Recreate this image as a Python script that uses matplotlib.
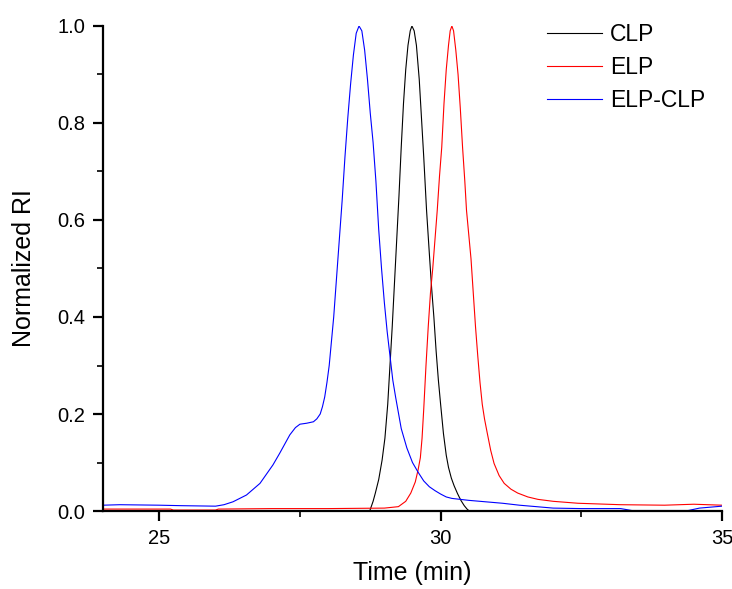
import matplotlib
matplotlib.use('Agg')
import matplotlib.pyplot as plt
from matplotlib.ticker import MultipleLocator

# CLP (black)
clp_t = [24.0, 28.74, 28.80, 28.84, 28.90, 28.96, 29.01, 29.06, 29.10, 29.14, 29.18,
         29.22, 29.26, 29.30, 29.34, 29.38, 29.42, 29.46, 29.49, 29.53, 29.57, 29.62,
         29.66, 29.70, 29.75, 29.80, 29.84, 29.88, 29.92, 29.96, 30.00, 30.05, 30.10,
         30.14, 30.19, 30.24, 30.30, 30.36, 30.42, 30.47, 30.51, 35.0]
clp_y = [0.0, 0.0, 0.02, 0.037, 0.065, 0.105, 0.15, 0.22, 0.30, 0.38, 0.47,
         0.56, 0.65, 0.75, 0.84, 0.91, 0.96, 0.99, 1.0, 0.99, 0.96, 0.89,
         0.81, 0.73, 0.62, 0.53, 0.46, 0.40, 0.33, 0.27, 0.22, 0.16, 0.115,
         0.09, 0.068, 0.052, 0.036, 0.022, 0.011, 0.004, 0.0, 0.0]

# ELP (red)
elp_t = [24.0, 25.2, 25.25, 26.0, 26.05, 27.0, 28.0, 29.0, 29.25, 29.38, 29.47, 29.55,
         29.60, 29.64, 29.67, 29.70, 29.74, 29.78, 29.82, 29.86, 29.90, 29.94, 29.98, 30.02,
         30.06, 30.10, 30.14, 30.17, 30.20, 30.23, 30.27, 30.31, 30.35, 30.39, 30.43,
         30.46, 30.50, 30.54, 30.58, 30.62, 30.66, 30.70, 30.74, 30.78, 30.83, 30.89,
         30.95, 31.04, 31.13, 31.25, 31.37, 31.55, 31.73, 32.0, 32.44, 33.2, 33.98,
         34.5, 35.0]
elp_y = [0.004, 0.004, 0.002, 0.002, 0.004, 0.005, 0.005, 0.006, 0.009, 0.02, 0.037, 0.06,
         0.085, 0.11, 0.15, 0.21, 0.30, 0.38, 0.45, 0.50, 0.56, 0.62, 0.69, 0.75,
         0.84, 0.91, 0.96, 0.99, 1.0, 0.99, 0.95, 0.90, 0.83, 0.75, 0.68,
         0.62, 0.57, 0.52, 0.45, 0.38, 0.32, 0.265, 0.22, 0.19, 0.16, 0.125,
         0.098, 0.073, 0.057, 0.045, 0.037, 0.029, 0.024, 0.02, 0.016, 0.013, 0.012,
         0.014, 0.012]

# ELP-CLP (blue)
mix_t = [24.0, 24.3, 25.0, 25.4, 26.0, 26.15, 26.31, 26.55, 26.79, 27.02, 27.14, 27.32,
         27.42, 27.50, 27.62, 27.74, 27.80, 27.86, 27.90, 27.94, 27.98, 28.02, 28.06,
         28.10, 28.15, 28.20, 28.25, 28.30, 28.35, 28.40, 28.45, 28.50, 28.55, 28.60,
         28.65, 28.70, 28.75, 28.80, 28.85, 28.90, 28.95, 29.00, 29.05, 29.10, 29.15,
         29.20, 29.30, 29.40, 29.50, 29.60, 29.70, 29.80, 29.90, 30.0, 30.1, 30.2, 30.5,
         30.8, 31.1, 31.4, 31.7, 32.0, 32.5, 33.2, 33.4, 34.4, 34.6, 35.0]
mix_y = [0.012, 0.013, 0.012, 0.011, 0.010, 0.013, 0.019, 0.033, 0.057, 0.095, 0.119, 0.157,
         0.172, 0.179, 0.181, 0.184, 0.19, 0.20, 0.215, 0.235, 0.265, 0.30, 0.35,
         0.40, 0.48, 0.56, 0.64, 0.73, 0.81, 0.88, 0.94, 0.985, 1.0, 0.99,
         0.95, 0.89, 0.82, 0.76, 0.68, 0.58, 0.50, 0.43, 0.37, 0.32, 0.27,
         0.235, 0.17, 0.13, 0.10, 0.08, 0.062, 0.05, 0.042, 0.035, 0.029, 0.026, 0.022,
         0.019, 0.016, 0.012, 0.009, 0.006, 0.005, 0.005, 0.001, 0.001, 0.006, 0.01]

plt.rcParams['font.family'] = ['Liberation Sans', 'DejaVu Sans']

fig = plt.figure(figsize=(7.32, 5.89), dpi=100)
ax = fig.add_axes([0.1407, 0.1324, 0.8456, 0.8235])

ax.plot(clp_t, clp_y, color='black', linewidth=0.8, label='CLP')
ax.plot(elp_t, elp_y, color='red', linewidth=0.8, label='ELP')
ax.plot(mix_t, mix_y, color='blue', linewidth=0.8, label='ELP-CLP')

ax.set_xlim(24, 35)
ax.set_ylim(0, 1.0)
ax.xaxis.set_major_locator(MultipleLocator(5))
ax.xaxis.set_minor_locator(MultipleLocator(2.5))
ax.set_yticks([0, 0.2, 0.4, 0.6, 0.8, 1.0])
ax.set_yticklabels(['0.0', '0.2', '0.4', '0.6', '0.8', '1.0'])
ax.yaxis.set_minor_locator(MultipleLocator(0.1))

for s in ['top', 'right']:
    ax.spines[s].set_visible(False)
for s in ['left', 'bottom']:
    ax.spines[s].set_linewidth(1.6)

ax.tick_params(which='major', direction='out', length=7, width=1.6, labelsize=14.5, pad=6)
ax.tick_params(which='minor', direction='out', length=4, width=1.2)

ax.set_xlabel('Time (min)', fontsize=18, labelpad=9)
ax.set_ylabel('Normalized RI', fontsize=18, labelpad=15)

ax.legend(loc='upper left', bbox_to_anchor=(0.717, 1.007), frameon=False, fontsize=16.5,
          handlelength=2.4, handletextpad=0.35, labelspacing=0.45,
          borderpad=0, borderaxespad=0)

fig.savefig('out.png', dpi=100)
